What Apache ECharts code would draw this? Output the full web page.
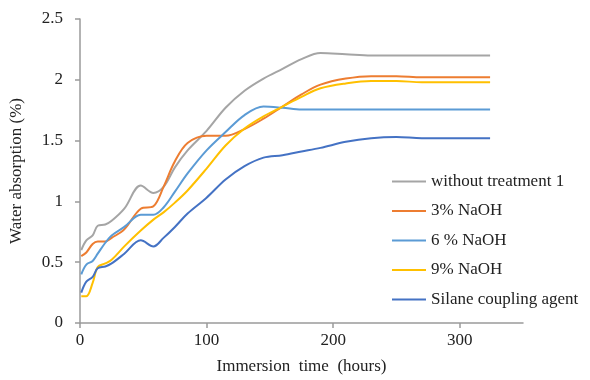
<!DOCTYPE html>
<html>
<head>
<meta charset="utf-8">
<script src="https://cdn.jsdelivr.net/npm/echarts@6/dist/echarts.min.js"></script>
<style>
html,body{margin:0;padding:0;background:#fff;}
#chart{width:590px;height:380px;}
</style>
</head>
<body>
<div id="chart"></div>
<script>
const hours = [1, 5, 10, 14, 20, 25, 35, 48, 58, 66, 75, 85, 100, 115, 130, 145, 160, 175, 190, 210, 230, 250, 270, 300, 324];
const withoutTreatment = [0.60, 0.68, 0.72, 0.80, 0.81, 0.84, 0.94, 1.13, 1.07, 1.12, 1.28, 1.42, 1.58, 1.77, 1.91, 2.01, 2.09, 2.17, 2.22, 2.21, 2.20, 2.20, 2.20, 2.20, 2.20];
const naoh3 = [0.55, 0.58, 0.65, 0.67, 0.67, 0.70, 0.77, 0.94, 0.96, 1.12, 1.33, 1.48, 1.54, 1.54, 1.595, 1.68, 1.78, 1.88, 1.96, 2.01, 2.03, 2.03, 2.02, 2.02, 2.02];
const naoh6 = [0.40, 0.48, 0.51, 0.57, 0.66, 0.72, 0.79, 0.89, 0.89, 0.95, 1.08, 1.23, 1.42, 1.57, 1.71, 1.78, 1.77, 1.755, 1.755, 1.755, 1.755, 1.755, 1.755, 1.755, 1.755];
const naoh9 = [0.22, 0.22, 0.33, 0.46, 0.49, 0.52, 0.63, 0.76, 0.85, 0.91, 0.99, 1.09, 1.27, 1.46, 1.60, 1.70, 1.78, 1.86, 1.93, 1.97, 1.99, 1.99, 1.98, 1.98, 1.98];
const silane = [0.25, 0.34, 0.38, 0.45, 0.465, 0.49, 0.57, 0.68, 0.63, 0.70, 0.79, 0.90, 1.03, 1.18, 1.29, 1.36, 1.38, 1.41, 1.44, 1.49, 1.52, 1.53, 1.52, 1.52, 1.52];
const seriesNames = ['without treatment 1', '3% NaOH', '6 % NaOH', '9% NaOH', 'Silane coupling agent'];
const seriesValues = [withoutTreatment, naoh3, naoh6, naoh9, silane];
const seriesColors = ['#a5a5a5', '#ed7d31', '#5b9bd5', '#ffc000', '#4472c4'];
const xTicks = [0, 100, 200, 300];
const yTicks = [0, 0.5, 1, 1.5, 2, 2.5];

const font = '"Liberation Serif", "DejaVu Serif", serif';
const chart = echarts.init(document.getElementById('chart'));
chart.setOption({
  animation: false,
  backgroundColor: '#fff',
  grid: {left: 79, right: 67, top: 19, bottom: 56, containLabel: false},
  legend: {
    orient: 'vertical',
    left: 387,
    top: 168,
    icon: 'rect',
    itemWidth: 34,
    itemHeight: 2,
    itemGap: 12.5,
    textStyle: {fontFamily: font, fontSize: 17, color: '#222'},
    data: seriesNames
  },
  xAxis: {
    type: 'value',
    min: 0, max: 350, interval: 100,
    name: 'Immersion  time  (hours)',
    nameLocation: 'middle',
    nameGap: 35,
    nameTextStyle: {fontFamily: font, fontSize: 17, color: '#222'},
    axisLine: {show: true, lineStyle: {color: '#9a9a9a', width: 1.5}},
    axisTick: {show: true, length: 5, lineStyle: {color: '#9a9a9a', width: 1.5}, customValues: xTicks},
    axisLabel: {fontFamily: font, fontSize: 17, color: '#222', margin: 9, customValues: xTicks},
    splitLine: {show: false}
  },
  yAxis: {
    type: 'value',
    min: 0, max: 2.5, interval: 0.5,
    name: 'Water absorption (%)',
    nameLocation: 'middle',
    nameGap: 55,
    nameTextStyle: {fontFamily: font, fontSize: 17, color: '#222'},
    axisLine: {show: true, lineStyle: {color: '#9a9a9a', width: 1.5}},
    axisTick: {show: true, length: 5, lineStyle: {color: '#9a9a9a', width: 1.5}},
    axisLabel: {fontFamily: font, fontSize: 17, color: '#222', margin: 17, customValues: yTicks},
    splitLine: {show: false}
  },
  series: seriesNames.map((name, i) => ({
    name: name,
    type: 'line',
    data: hours.map((h, j) => [h, seriesValues[i][j]]),
    smooth: 0.35,
    symbol: 'none',
    lineStyle: {color: seriesColors[i], width: 2},
    itemStyle: {color: seriesColors[i]}
  }))
});
</script>
</body>
</html>
